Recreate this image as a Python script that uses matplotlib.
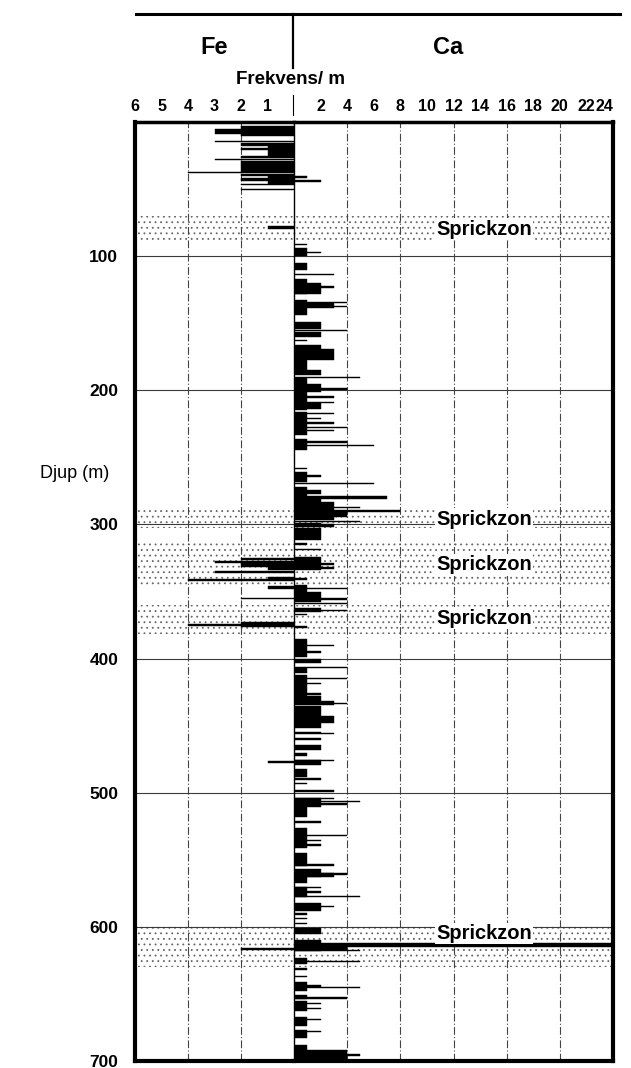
import matplotlib
matplotlib.use("Agg")
import matplotlib.pyplot as plt
from matplotlib.lines import Line2D

plt.rcParams['font.family'] = ['Liberation Sans', 'DejaVu Sans']
plt.rcParams['hatch.linewidth'] = 0.6

# ---------------- data (depth in m, frequency per m) ----------------
fe_top = [3, 5, 9, 14, 15.5, 18, 19.5, 21, 25.5, 27.5, 29, 37, 38.5, 40, 42, 44, 46, 50,
          77.5,
          325, 327.5, 329, 332, 335, 339, 341, 346, 354.5,
          372.5, 374.5,
          476, 616]
fe_bot = [5, 9, 10.5, 15, 18, 19.5, 21, 25, 26.5, 28.5, 37, 38, 40, 42, 44, 46, 47, 51,
          79.5,
          326.5, 329, 332, 334, 336.5, 340.5, 342.5, 348.5, 355.5,
          376.5, 375.5,
          477.5, 617.5]
fe_val = [2, 3, 2, 3, 2, 1, 2, 1, 2, 3, 2, 4, 2, 1, 2, 1, 2, 2,
          1,
          2, 3, 2, 1, 3, 1, 4, 1, 2,
          2, 4,
          1, 2]

ca_top = [40.5, 43, 91, 94, 97, 105, 113, 117, 120, 122.5,
          133, 134, 135, 137, 149, 155, 156.5, 162.5, 166, 169, 177.5, 185, 190,
          191, 195, 198.5, 201, 204.5, 208.5, 209.5, 216, 217, 220.5, 224, 227, 229.5,
          236, 238, 240.5, 258, 261, 263.5, 269,
          272, 274, 277.5, 279, 281, 283, 287, 289.5, 291, 294.5, 297.5, 299, 300, 303,
          314, 318, 324, 328.5, 332, 340, 345, 347.5, 350, 355, 358.5, 362.5, 363.5,
          366.5, 376,
          385.5, 390, 394.5, 400, 406, 407, 412, 414.5, 418, 426, 428, 431.5, 433,
          435.5, 443, 448, 454.5, 455.5, 459.5, 464.5,
          470.5, 475.5, 475.5, 482, 489, 492.5, 498, 504, 504, 506, 508, 510.5, 521,
          526.5, 531.5, 535, 538.5, 545, 553, 557, 560, 560, 563, 570, 570, 573, 577,
          582.5, 584.5, 590, 593.5, 597, 600.5, 610, 612, 615, 617,
          623.5, 625.5, 631, 636.5, 641, 643, 644.5, 651, 652.5, 655.5, 656.5, 660.5,
          667.5, 668.5, 677, 677.5, 688, 692, 695]
ca_bot = [42, 45, 92, 100, 98, 110, 114, 128, 128, 123.5,
          144, 135, 139, 138, 154, 156, 160, 163.5, 169, 177.5, 185, 188.5, 191,
          195, 201, 200, 215, 205.5, 209.5, 214, 233, 218, 221.5, 225, 228, 230.5,
          244.5, 239, 241.5, 259, 268, 264.5, 270,
          274, 277.5, 279, 281, 283, 289, 288, 291, 294.5, 297, 298.5, 300, 302, 311.5,
          315, 319, 334, 330, 333.5, 341.5, 350, 348.5, 357.5, 356, 359.5, 365, 364.5,
          367.5, 377.5,
          398.5, 391, 395.5, 403.5, 407, 411, 428, 415.5, 419, 427, 431.5, 434.5, 434,
          443, 448, 452, 455.5, 456.5, 460.5, 468,
          472.5, 479, 476.5, 488, 490.5, 493.5, 499.5, 510.5, 505, 507, 509.5, 518, 522.5,
          541.5, 532.5, 536, 539.5, 555, 554.5, 563, 563, 561, 567.5, 578, 571, 574.5, 578,
          588, 585.5, 591, 594.5, 598, 605, 618, 615, 617, 618,
          627.5, 626.5, 632, 637.5, 647.5, 645, 645.5, 653.5, 653.5, 662.5, 657.5, 661.5,
          674, 669.5, 683, 678.5, 693, 700, 696]
ca_val = [1, 2, 1, 1, 2, 1, 3, 1, 2, 3,
          1, 4, 3, 4, 2, 4, 2, 1, 2, 3, 1, 2, 5,
          1, 2, 4, 1, 3, 3, 2, 1, 3, 2, 3, 4, 3,
          1, 4, 6, 1, 1, 2, 6,
          1, 2, 1, 7, 2, 3, 5, 8, 4, 3, 5, 2, 3, 2,
          1, 2, 2, 3, 3, 1, 1, 4, 2, 4, 4, 2, 4,
          1, 1,
          1, 3, 2, 2, 4, 1, 1, 4, 2, 2, 2, 3, 4,
          2, 3, 2, 2, 3, 2, 2,
          1, 2, 3, 1, 2, 1, 3, 2, 3, 5, 4, 1, 2,
          1, 4, 2, 2, 1, 3, 2, 3, 4, 1, 1, 2, 2, 5,
          2, 3, 1, 1, 1, 2, 2, 24, 4, 5,
          1, 5, 1, 1, 1, 2, 5, 1, 4, 1, 2, 2,
          1, 2, 1, 2, 1, 4, 5]

zone_top = [70, 288, 314, 360, 598]
zone_bot = [88, 303, 347, 382, 630]
zone_label_depth = [80, 296, 330, 370, 605]
zone_label = "Sprickzon"

fe_ticks = [6, 5, 4, 3, 2, 1]
ca_ticks = [2, 4, 6, 8, 10, 12, 14, 16, 18, 20, 22, 24]
depth_ticks = [100, 200, 300, 400, 500, 600, 700]
fe_grid = [4, 2]
ca_grid = [4, 8, 12, 16, 20]

# ---------------- figure ----------------
W, H = 631, 1068
fig = plt.figure(figsize=(W / 100, H / 100), dpi=100)

def fx(x):
    return x / W

def fy(y):
    return 1 - y / H

x_left, x_mid, x_right = 135, 294, 613
y_top, y_bot = 122, 1061
axFe = fig.add_axes([fx(x_left), fy(y_bot), fx(x_mid - x_left), (y_bot - y_top) / H])
axCa = fig.add_axes([fx(x_mid), fy(y_bot), fx(x_right - x_mid), (y_bot - y_top) / H], sharey=axFe)

axFe.set_xlim(6, 0)
axCa.set_xlim(0, 24)
axFe.set_ylim(700, 0)

gridkw = dict(color='#3a3a3a', lw=0.8, zorder=2)
for ax in (axFe, axCa):
    for zt, zb in zip(zone_top, zone_bot):
        ax.axhspan(zt, zb, facecolor='white', edgecolor='#666666', hatch='...',
                   linewidth=0, zorder=1)
    for d in depth_ticks[:-1]:
        ax.axhline(d, **gridkw)
for g in fe_grid:
    axFe.axvline(g, color='#444444', lw=0.8, ls=(0, (7, 2, 1, 2)), zorder=2)
for g in ca_grid:
    axCa.axvline(g, color='#444444', lw=0.8, ls=(0, (7, 2, 1, 2)), zorder=2)

# bars
axFe.barh([(t + b) / 2 for t, b in zip(fe_top, fe_bot)], fe_val,
          height=[b - t for t, b in zip(fe_top, fe_bot)], left=0,
          color='black', edgecolor='black', linewidth=0.3, zorder=3)
axCa.barh([(t + b) / 2 for t, b in zip(ca_top, ca_bot)], ca_val,
          height=[b - t for t, b in zip(ca_top, ca_bot)], left=0,
          color='black', edgecolor='black', linewidth=0.3, zorder=3)

# labels in zones
for d in zone_label_depth:
    axCa.text(14.3, d, zone_label, ha='center', va='center', fontsize=14.5,
              fontweight='bold', zorder=5,
              bbox=dict(facecolor='white', edgecolor='none', pad=1.0))

# spines
for ax in (axFe, axCa):
    for s in ax.spines.values():
        s.set_linewidth(3)
        s.set_zorder(6)
axFe.spines['right'].set_visible(False)
axCa.spines['left'].set_linewidth(1.0)
axFe.spines['top'].set_linewidth(2.5)
axCa.spines['top'].set_linewidth(2.5)

# ticks
axFe.xaxis.tick_top()
axCa.xaxis.tick_top()
axFe.set_xticks(fe_ticks)
axFe.set_xticklabels([str(t) for t in fe_ticks])
axCa.set_xticks(ca_ticks)
axCa.set_xticklabels([str(t) for t in ca_ticks])
for ax in (axFe, axCa):
    ax.tick_params(axis='x', length=0, pad=6, labelsize=11.5)
    for lab in ax.get_xticklabels():
        lab.set_fontweight('bold')
axCa.get_xticklabels()[-1].set_horizontalalignment('right')
axCa.get_xticklabels()[-1].set_x(24.4)
axFe.set_yticks(depth_ticks)
axFe.set_yticklabels([str(t) for t in depth_ticks])
axFe.tick_params(axis='y', length=0, pad=12, labelsize=12.5)
for lab in axFe.get_yticklabels():
    lab.set_fontweight('bold')
axCa.tick_params(axis='y', left=False, labelleft=False, length=0)

# header
fig.add_artist(Line2D([fx(136), fx(620)], [fy(14), fy(14)], color='black', lw=2.2))
fig.add_artist(Line2D([fx(293), fx(293)], [fy(14), fy(68)], color='black', lw=1.6))
fig.add_artist(Line2D([fx(293), fx(293)], [fy(95), fy(115)], color='black', lw=0.8))
fig.text(fx(214), fy(48), "Fe", ha='center', va='center', fontsize=17, fontweight='bold')
fig.text(fx(448), fy(48), "Ca", ha='center', va='center', fontsize=17, fontweight='bold')
fig.text(fx(291), fy(80), "Frekvens/ m", ha='center', va='center', fontsize=13.5,
         fontweight='bold')
fig.text(fx(75), fy(473), "Djup (m)", ha='center', va='center', fontsize=13)

fig.savefig("out.png", dpi=100)
